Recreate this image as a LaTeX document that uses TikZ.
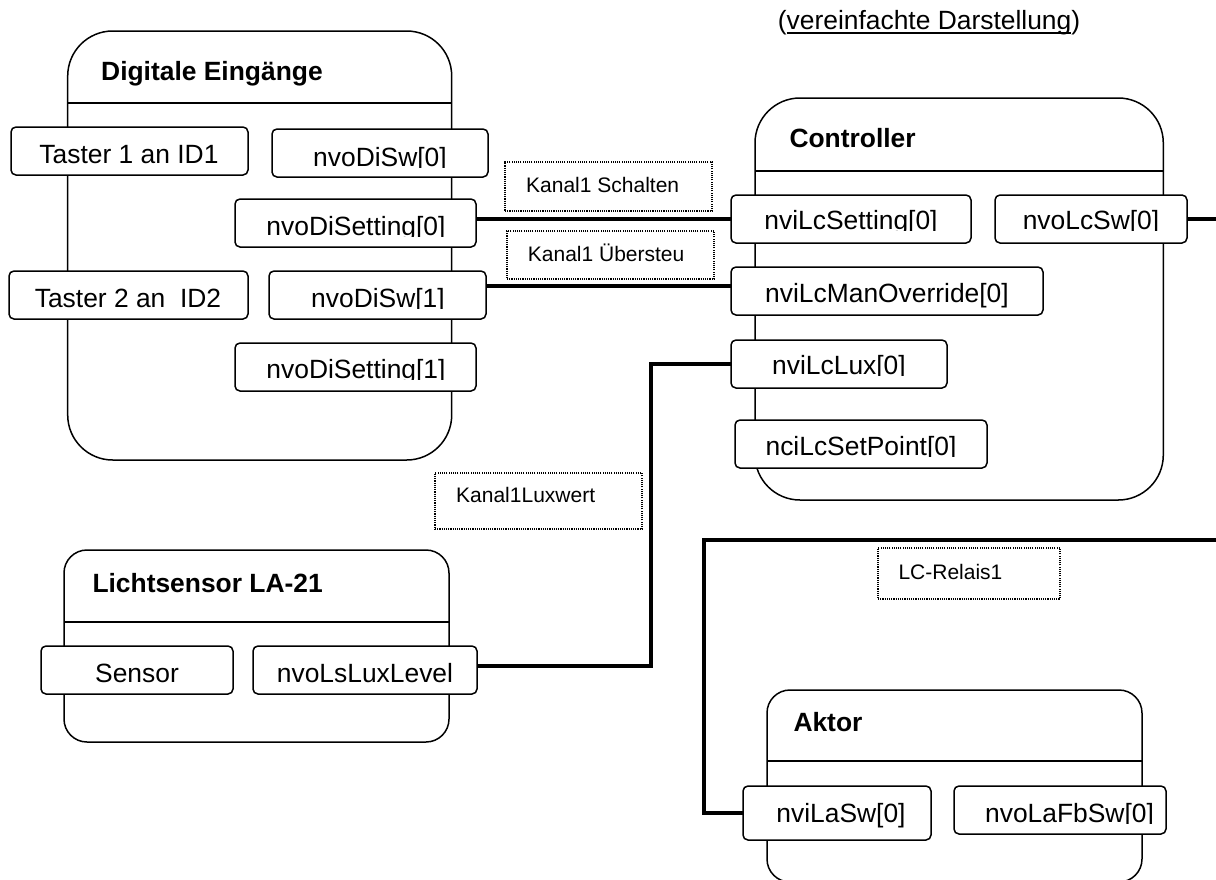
\documentclass[tikz,border=0pt]{standalone}
\usepackage{fontspec}
\setmainfont{Liberation Sans}

% underline drawn close to the baseline, crossing the descenders
\newcommand\ulin[1]{\setbox0\hbox{#1}\rlap{\rule[-4.1pt]{\wd0}{1.4pt}}\box0}

% box node from its corners: style, name, x1, y1, x2, y2
\newcommand\rbox[6]{\node[#1, minimum width={#5-#3}, minimum height={#6-#4}] (#2) at ({(#3+#5)/2},{(#4+#6)/2}) {};}
% port caption on a baseline
\newcommand\ptxt[4]{\node[lbl, anchor=base] (#1) at (#2,#3) {#4};}
% port caption whose descenders are cut off just below the baseline
\newcommand\ptclip[4]{\begin{scope}\clip ({#2-250},{#3-60}) rectangle ({#2+250},{#3+1.2});\node[lbl, anchor=base] (#1) at (#2,#3) {#4};\end{scope}}

\tikzset{
  grp/.style={draw, line width=1.5pt, inner sep=0pt, outer sep=0pt},
  sep/.style={line width=1.5pt},
  port/.style={draw, fill=white, line width=1.5pt, rounded corners=5pt, inner sep=0pt, outer sep=0pt},
  tag/.style={draw, dash pattern=on 1.1pt off 1.1pt, line width=1.1pt, inner sep=0pt, outer sep=0pt},
  lbl/.style={inner sep=0pt, font=\fontsize{26.4pt}{30pt}\selectfont},
  ttl/.style={inner sep=0pt, anchor=base west, font=\bfseries\fontsize{26.4pt}{30pt}\selectfont},
  tagtxt/.style={inner sep=0pt, anchor=base west, font=\fontsize{21pt}{24pt}\selectfont},
  conn/.style={line width=3.4pt},
}

\begin{document}
\begin{tikzpicture}[x=1pt, y=-1pt]
\useasboundingbox (0,0) rectangle (1216,879);
\fill[white] (0,0) rectangle (1216,879);
\clip (0,0) rectangle (1216,879);

% ---- function blocks ----
\rbox{grp, rounded corners=45pt}{dig}{67.7}{31}{451.7}{460}
\rbox{grp, rounded corners=45pt}{ctrl}{755}{98}{1163.3}{500}
\rbox{grp, rounded corners=23pt}{ls}{64}{550}{449}{742}
\rbox{grp, rounded corners=23pt}{akt}{767}{690}{1142}{882}

\coordinate (digdiv) at (0,103);
\coordinate (ctrldiv) at (0,171);
\coordinate (lsdiv) at (0,622);
\coordinate (aktdiv) at (0,761);
\draw[sep] (dig.west |- digdiv) -- (dig.east |- digdiv);
\draw[sep] (ctrl.west |- ctrldiv) -- (ctrl.east |- ctrldiv);
\draw[sep] (ls.west |- lsdiv) -- (ls.east |- lsdiv);
\draw[sep] (akt.west |- aktdiv) -- (akt.east |- aktdiv);

\node[ttl] (digt) at (101,80) {Digitale Eingänge};
\node[ttl] (ctrlt) at (789.3,147.7) {Controller};
\node[ttl] (lst) at (92.3,592.7) {Lichtsensor LA-21};
\node[ttl] (aktt) at (793.3,731.7) {Aktor};

% ---- ports ----
\rbox{port}{t1}{11}{127}{248}{175}
\rbox{port}{dsw0}{272}{129}{488}{177}
\rbox{port}{dset0}{235}{199}{476}{247}
\rbox{port}{t2}{9}{271}{248}{319}
\rbox{port}{dsw1}{269}{271}{486}{319}
\rbox{port}{dset1}{235}{343}{476}{391}

\rbox{port}{lcset}{731}{195}{971}{243}
\rbox{port}{lcsw}{995}{195}{1187}{243}
\rbox{port}{lcman}{731}{267}{1043}{315}
\rbox{port}{lclux}{731}{340}{947}{388}
\rbox{port}{lcsp}{735}{420}{987}{468}

\rbox{port}{sensor}{41}{646}{233}{694}
\rbox{port}{lslux}{253}{646}{477}{694}

\rbox{port}{lasw}{743}{786}{931}{840}
\rbox{port}{lafb}{954}{786}{1166}{834}

\ptxt{t1t}{129}{163}{Taster 1 an ID1}
\ptclip{dsw0t}{380}{166}{nvoDiSw[0]}
\ptclip{dset0t}{356}{235}{nvoDiSetting[0]}
\ptxt{t2t}{128}{307}{Taster 2 an\ \ ID2}
\ptclip{dsw1t}{378}{307}{nvoDiSw[1]}
\ptclip{dset1t}{356}{378.5}{nvoDiSetting[1]}

\ptclip{lcsett}{851}{229.5}{nviLcSetting[0]}
\ptclip{lcswt}{1091}{229.5}{nvoLcSw[0]}
\ptxt{lcmant}{887}{302}{nviLcManOverride[0]}
\ptclip{lcluxt}{839}{374.5}{nviLcLux[0]}
\ptclip{lcspt}{861}{455.5}{nciLcSetPoint[0]}

\ptxt{sensort}{137}{682}{Sensor}
\ptxt{lsluxt}{365}{682}{nvoLsLuxLevel}

\ptxt{laswt}{841}{822}{nviLaSw[0]}
\ptclip{lafbt}{1069.5}{822}{nvoLaFbSw[0]}

% ---- binding names ----
\rbox{tag}{k1s}{505}{162}{712}{211}
\rbox{tag}{k1u}{507}{231}{714}{279}
\rbox{tag}{k1l}{435}{473}{642}{529}
\rbox{tag}{lcr}{878}{548}{1060}{599}
\node[tagtxt] (k1st) at (526,192.7) {Kanal1 Schalten};
\node[tagtxt] (k1ut) at (527.7,261) {Kanal1 Übersteu};
\node[tagtxt] (k1lt) at (456,502.7) {Kanal1Luxwert};
\node[tagtxt] (lcrt) at (898.3,579.3) {LC-Relais1};

% ---- note ----
\node[lbl, anchor=base west] (note) at (777.7,29.5) {(\ulin{vereinfachte Darstellung})};

% ---- bindings ----
\coordinate (luxbend) at (651,364);
\coordinate (offA) at (1224,219);
\coordinate (offB) at (1224,540);
\coordinate (relbend) at (704,540);

\draw[conn] (dset0.east |- lcset.west) -- (lcset.west);
\draw[conn] ([yshift=9pt]dsw1.east) -- ([yshift=9pt]dsw1.east -| lcman.west);
\draw[conn] ([yshift=4pt]lslux.east) -| (luxbend) -- (lclux.west);
\draw[conn] (lcsw.east) -- (lcsw.east -| offA);
\draw[conn] (offB) -- (relbend) |- (lasw.west);
\end{tikzpicture}
\end{document}
